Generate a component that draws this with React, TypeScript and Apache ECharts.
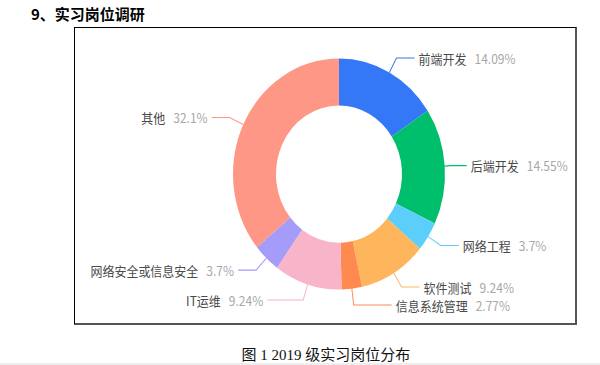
import React, { useEffect, useRef } from "react";
import * as echarts from "echarts";

const categories = ["前端开发", "后端开发", "网络工程", "软件测试", "信息系统管理", "IT运维", "网络安全或信息安全", "其他"];
const percents = [14.09, 14.55, 3.7, 9.24, 2.77, 9.24, 3.7, 32.1];
const sliceColors = ["#3578F7", "#00BF6C", "#5BCEFA", "#FFB55C", "#FF8A50", "#F8B4C8", "#A59BF9", "#FF9786"];

const titleText = "9、实习岗位调研";
const captionText = "图 1 2019 级实习岗位分布";

const STRETCH = 1.09;

const lineOverrides: Record<number, { length: number; length2: number }> = {
  1: { length: 6, length2: 16 },
  4: { length: 15, length2: 38 },
  5: { length: 15, length2: 36 },
};

export default function App() {
  const ref = useRef<HTMLDivElement>(null);
  useEffect(() => {
    if (!ref.current) return;
    const chart = echarts.init(ref.current, undefined, { renderer: "svg" });
    chart.setOption({
      animation: false,
      textStyle: { fontFamily: "'Noto Sans CJK SC', sans-serif" },
      series: [
        {
          type: "pie",
          center: [264, 134],
          radius: [63, 106],
          startAngle: 90,
          clockwise: true,
          avoidLabelOverlap: true,
          itemStyle: { borderWidth: 0 },
          label: {
            show: true,
            overflow: "none",
            distanceToLabelLine: 4,
            formatter: (p: any) => `{n|${p.name}}{v|${p.value}%}`,
            rich: {
              n: { color: "#4a4a4a", fontSize: 12, fontFamily: "'Noto Sans CJK SC', sans-serif" },
              v: { color: "#a8a8a8", fontSize: 12, padding: [0, 0, 0, 8], fontFamily: "'Noto Sans CJK SC', sans-serif" },
            },
          },
          labelLine: { show: true, length: 15, length2: 18, smooth: false, lineStyle: { width: 1 } },
          emphasis: { disabled: true },
          data: categories.map((name, i) => ({
            name,
            value: percents[i],
            itemStyle: { color: sliceColors[i] },
            ...(lineOverrides[i] ? { labelLine: lineOverrides[i] } : {}),
          })),
        },
      ],
    });
    return () => chart.dispose();
  }, []);

  return (
    <div style={{ position: "absolute", left: 0, top: 0, width: 600, height: 365, background: "#fff", overflow: "hidden" }}>
      <div
        style={{
          position: "absolute",
          left: 31,
          top: 4,
          fontFamily: "'Noto Sans CJK SC', sans-serif",
          fontWeight: "bold",
          fontSize: 15,
          lineHeight: "20px",
          color: "#000",
          whiteSpace: "nowrap",
        }}
      >
        {titleText}
      </div>
      <div
        style={{
          position: "absolute",
          left: 74,
          top: 27,
          width: 500,
          height: 295,
          borderLeft: "1px solid #000",
          borderTop: "1px solid #000",
          borderRight: "2px solid #555",
          borderBottom: "2px solid #555",
          overflow: "hidden",
        }}
      >
        <div
          ref={ref}
          style={{
            width: 640,
            height: Math.round(295 / STRETCH),
            transform: `scaleY(${STRETCH})`,
            transformOrigin: "0 0",
          }}
        />
      </div>
      <div
        style={{
          position: "absolute",
          left: 0,
          width: 600,
          top: 346,
          textAlign: "center",
          paddingLeft: 52,
          boxSizing: "border-box",
          fontFamily: "'Liberation Serif', 'Noto Sans CJK SC', serif",
          fontSize: 15,
          lineHeight: "18px",
          color: "#111",
          whiteSpace: "pre",
        }}
      >
        {captionText}
      </div>
      <div style={{ position: "absolute", left: 0, top: 363, width: 600, height: 2, background: "#eeeeee" }} />
    </div>
  );
}
